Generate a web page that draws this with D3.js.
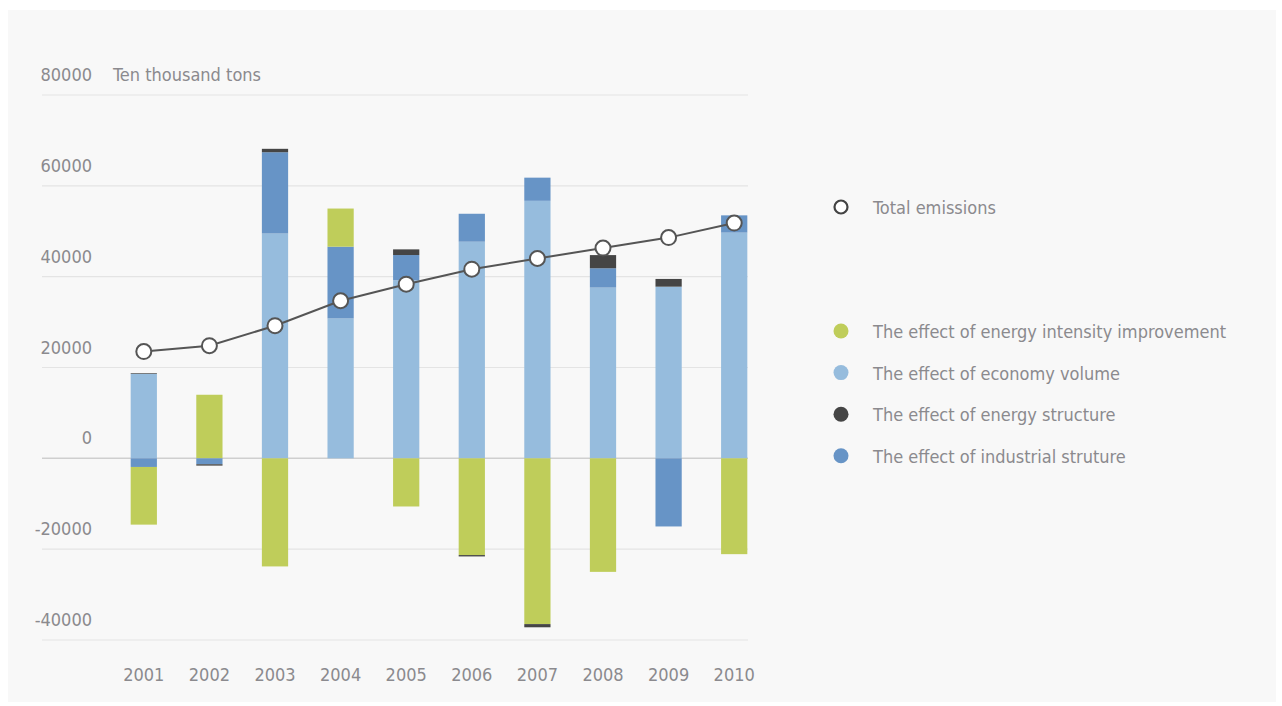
<!DOCTYPE html>
<html>
<head>
<meta charset="utf-8">
<script src="https://cdn.jsdelivr.net/npm/d3@7"></script>
<style>
  body { margin: 0; background: #ffffff; }
  text { font-family: "DejaVu Sans Condensed", "DejaVu Sans", sans-serif; font-stretch: condensed; fill: #8b8a8e; }
</style>
</head>
<body>
<div id="chart"></div>
<script>
// DATA
var years = ["2001","2002","2003","2004","2005","2006","2007","2008","2009","2010"];
var intensity = [-12700, 14000, -23800, 8400, -10600, -21300, -36500, -25000, 0, -21100];
var economy   = [18600, 0, 49500, 30800, 39200, 47700, 56700, 37600, 37800, 49700];
var structure = [150, -300, 750, 0, 1250, -300, -700, 2900, 1700, 0];
var industry  = [-1900, -1300, 17900, 15800, 5560, 6150, 5100, 4250, -15000, 3800];
var total     = [23500, 24800, 29200, 34700, 38350, 41650, 44000, 46300, 48600, 51800];
var yTicks = [-40000, -20000, 0, 20000, 40000, 60000, 80000];

var series = [
    {key: "intensity", name: "The effect of energy intensity improvement", values: intensity, color: "#bfcd5a"},
    {key: "economy", name: "The effect of economy volume", values: economy, color: "#96bcdd"},
    {key: "structure", name: "The effect of energy structure", values: structure, color: "#454545"},
    {key: "industry", name: "The effect of industrial struture", values: industry, color: "#6794c6"}
];
// stacking order above and below zero
var posOrder = ["economy", "industry", "structure", "intensity"];
var negOrder = ["economy", "industry", "intensity", "structure"];

var WIDTH = 1282, HEIGHT = 706;
var FONT = "18px";

var svg = d3.select("#chart").append("svg")
    .attr("width", WIDTH)
    .attr("height", HEIGHT);

svg.append("rect")
    .attr("x", 8).attr("y", 10)
    .attr("width", 1268).attr("height", 692)
    .attr("fill", "#f8f8f8");

var x = d3.scaleBand()
    .domain(years)
    .range([111, 767])
    .paddingInner(0.6)
    .paddingOuter(0.3);

var y = d3.scaleLinear()
    .domain([-40000, 80000])
    .range([640, 95]);

// gridlines
svg.selectAll(".grid")
    .data(yTicks)
    .enter()
    .append("line")
    .attr("x1", 42).attr("x2", 748)
    .attr("y1", d => y(d)).attr("y2", d => y(d))
    .attr("stroke", d => d === 0 ? "#cfcfcf" : "#e4e4e4")
    .attr("stroke-width", d => d === 0 ? 1.5 : 1.2);

svg.selectAll(".ytick")
    .data(yTicks)
    .enter()
    .append("text")
    .attr("x", 92)
    .attr("y", d => y(d) - 14)
    .attr("text-anchor", "end")
    .style("font-size", FONT)
    .text(d => d);

svg.append("text")
    .attr("x", 113)
    .attr("y", y(80000) - 14)
    .style("font-size", FONT)
    .text("Ten thousand tons");

// bars
var byKey = {};
series.forEach(s => byKey[s.key] = s);

var segs = [];
years.forEach(function(yr, i) {
    var up = 0, down = 0;
    posOrder.forEach(function(k) {
        var v = byKey[k].values[i];
        if (v > 0) { segs.push({year: yr, y0: up, y1: up + v, color: byKey[k].color}); up += v; }
    });
    negOrder.forEach(function(k) {
        var v = byKey[k].values[i];
        if (v < 0) { segs.push({year: yr, y0: down, y1: down + v, color: byKey[k].color}); down += v; }
    });
});

svg.selectAll(".seg")
    .data(segs)
    .enter()
    .append("rect")
    .attr("x", d => x(d.year))
    .attr("width", x.bandwidth())
    .attr("y", d => y(Math.max(d.y0, d.y1)))
    .attr("height", d => Math.abs(y(d.y0) - y(d.y1)))
    .attr("fill", d => d.color);

// x labels
svg.selectAll(".xlabel")
    .data(years)
    .enter()
    .append("text")
    .attr("x", d => x(d) + x.bandwidth() / 2)
    .attr("y", 681)
    .attr("text-anchor", "middle")
    .style("font-size", FONT)
    .text(d => d);

// total emissions line
var line = d3.line()
    .x((d, i) => x(years[i]) + x.bandwidth() / 2)
    .y(d => y(d));

svg.append("path")
    .datum(total)
    .attr("d", line)
    .attr("fill", "none")
    .attr("stroke", "#555555")
    .attr("stroke-width", 2);

svg.selectAll(".dot")
    .data(total)
    .enter()
    .append("circle")
    .attr("cx", (d, i) => x(years[i]) + x.bandwidth() / 2)
    .attr("cy", d => y(d))
    .attr("r", 7.5)
    .attr("fill", "#ffffff")
    .attr("stroke", "#555555")
    .attr("stroke-width", 2);

// legend
svg.append("circle")
    .attr("cx", 841).attr("cy", 207).attr("r", 6.5)
    .attr("fill", "#ffffff").attr("stroke", "#444444").attr("stroke-width", 2.2);
svg.append("text")
    .attr("x", 873).attr("y", 214)
    .style("font-size", FONT)
    .text("Total emissions");

var legend = svg.selectAll(".legend")
    .data(series)
    .enter()
    .append("g")
    .attr("transform", (d, i) => "translate(841," + (331 + i * 41.6) + ")");

legend.append("circle")
    .attr("r", 7.5)
    .attr("fill", d => d.color);

legend.append("text")
    .attr("x", 32)
    .attr("y", 7)
    .style("font-size", FONT)
    .text(d => d.name);
</script>
</body>
</html>
